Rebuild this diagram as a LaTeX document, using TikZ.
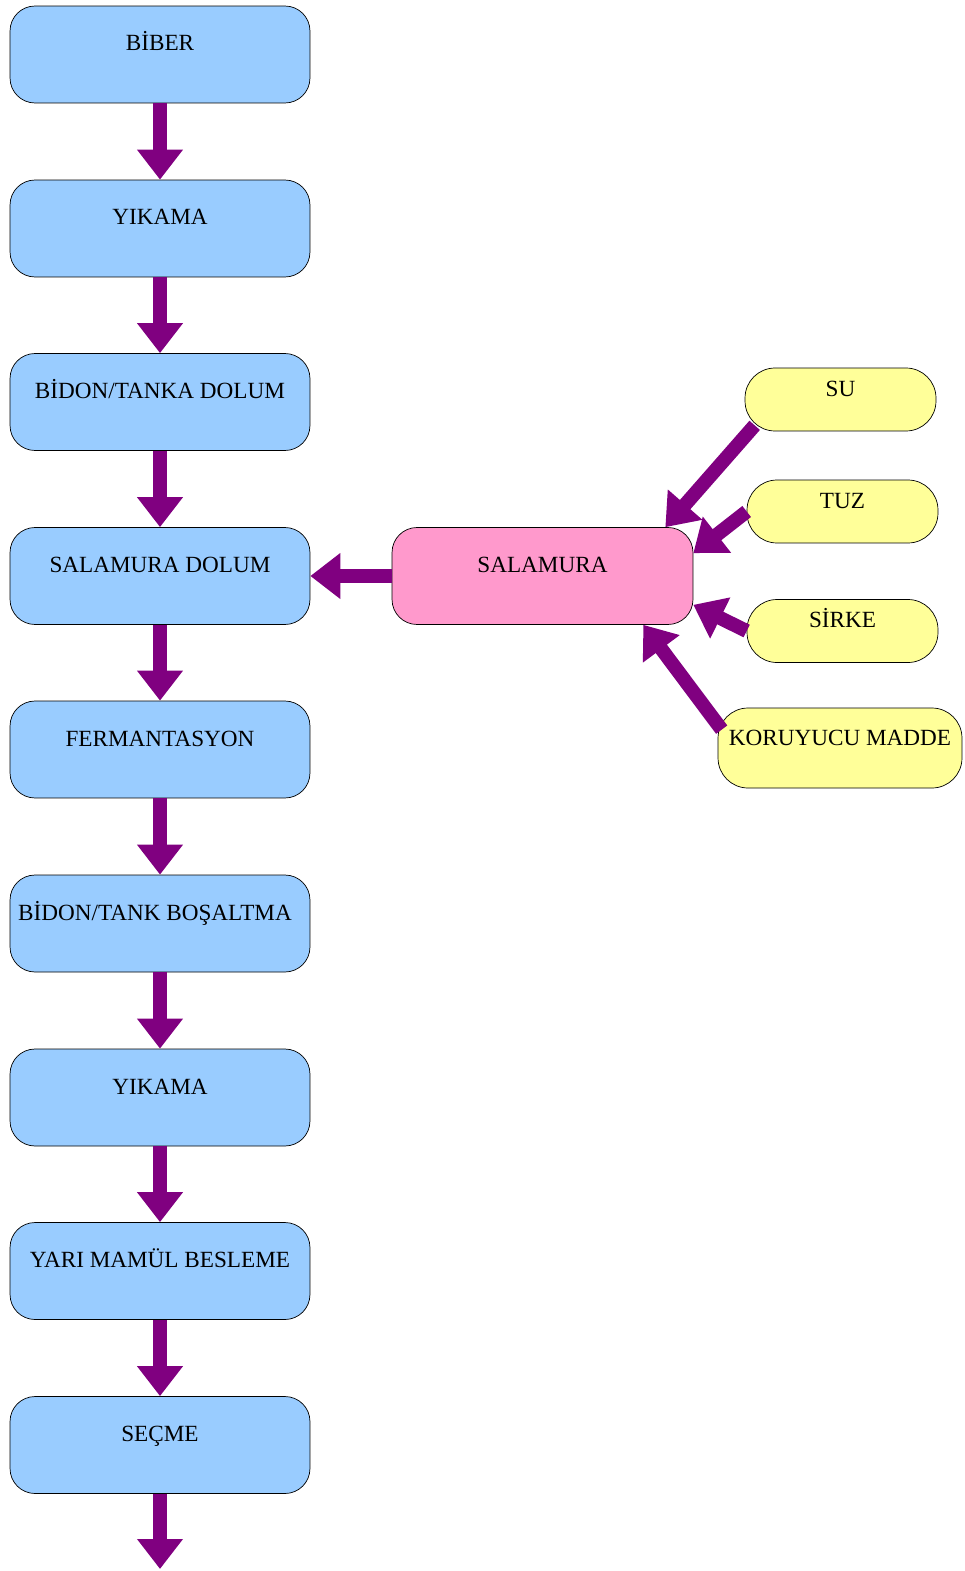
\documentclass[tikz,border=0pt]{standalone}
\usepackage{fontspec}
\setmainfont{Liberation Serif}
\usetikzlibrary{arrows.meta}

\definecolor{adimmavi}{HTML}{99CCFF}
\definecolor{salpembe}{HTML}{FF99CC}
\definecolor{katsari}{HTML}{FFFF99}
\definecolor{okmor}{HTML}{800080}

\tikzset{
  adim/.style={draw=black, fill=adimmavi, rounded corners=0.5cm, inner sep=0pt,
    minimum width=6cm, text height=0.9cm, text depth=1.04cm, font=\fontsize{13.2}{15}\selectfont},
  salbox/.style={adim, fill=salpembe, minimum width=6.02cm},
  katki/.style={draw=black, fill=katsari, rounded corners=0.6cm, inner sep=0pt,
    minimum width=3.82cm, text height=0.56cm, text depth=0.7cm, font=\fontsize{13.2}{15}\selectfont},
  akis/.style={draw=okmor, line width=0.28cm, -{Triangle[width=0.88cm,length=0.6cm,fill=okmor]}}
}

\begin{document}
\begin{tikzpicture}[x=0.02cm, y=-0.02cm]
            \useasboundingbox (0, 0) rectangle (964, 1571);
            % ana akis
            \node[adim] (biber) at (160, 54.5) {BİBER};
            \node[adim] (yikama1) at (160, 228.5) {YIKAMA};
            \node[adim] (bidondolum) at (160, 402) {BİDON/TANKA DOLUM};
            \node[adim] (saldolum) at (160, 576) {SALAMURA DOLUM};
            \node[adim] (ferm) at (160, 749.5) {FERMANTASYON};
            \node[adim] (bosaltma) at (160, 923.5) {\hspace*{-0.2cm}BİDON/TANK BOŞALTMA};
            \node[adim] (yikama2) at (160, 1097.5) {YIKAMA};
            \node[adim] (besleme) at (160, 1271) {YARI MAMÜL BESLEME};
            \node[adim] (secme) at (160, 1445) {SEÇME};
            \coordinate (son) at (160, 1569);
            % salamura ve katkilar
            \node[salbox] (salamura) at (542.5, 576) {SALAMURA};
            \node[katki] (su) at (840.5, 399.5) {SU};
            \node[katki] (tuz) at (842.5, 511.5) {TUZ};
            \node[katki] (sirke) at (842.5, 631) {SİRKE};
            \node[katki, minimum width=4.88cm, text height=0.74cm, text depth=0.86cm] (koru) at (840, 748) {KORUYUCU MADDE};
            \draw[akis] (biber) -- (yikama1);
            \draw[akis] (yikama1) -- (bidondolum);
            \draw[akis] (bidondolum) -- (saldolum);
            \draw[akis] (saldolum) -- (ferm);
            \draw[akis] (ferm) -- (bosaltma);
            \draw[akis] (bosaltma) -- (yikama2);
            \draw[akis] (yikama2) -- (besleme);
            \draw[akis] (besleme) -- (secme);
            \draw[akis] (secme) -- (son);
            \draw[akis] (salamura) -- (saldolum);
            \draw[akis] ([shift={(0.2cm,0.12cm)}]su.south west) -- ([xshift=-0.56cm]salamura.north east);
            \draw[akis] (tuz.west) -- ([yshift=-0.52cm]salamura.north east);
            \draw[akis] (sirke.west) -- ([yshift=0.4cm]salamura.south east);
            \draw[akis] ([shift={(0.08cm,-0.44cm)}]koru.north west) -- ([xshift=-1cm]salamura.south east);
        \end{tikzpicture}
\end{document}
